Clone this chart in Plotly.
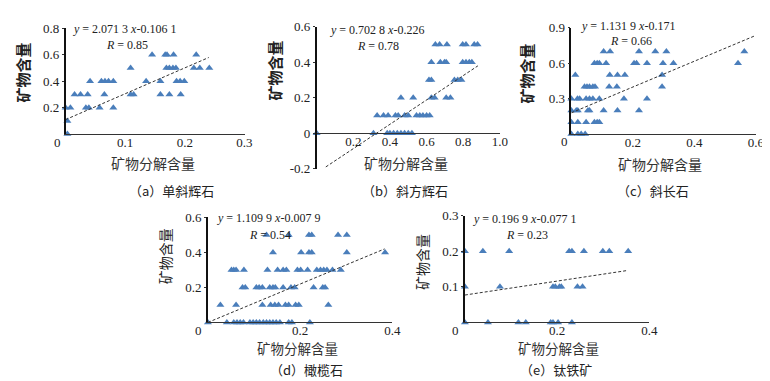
import plotly.graph_objects as go

W, H = 770, 381

# ---------------- data ----------------
# (a) 单斜辉石
a_x = [0.003, 0.003, 0.0, 0.008, 0.034, 0.039, 0.057, 0.08,
       0.015, 0.025, 0.037, 0.065, 0.109, 0.114, 0.159, 0.174, 0.193,
       0.041, 0.06, 0.066, 0.072, 0.08, 0.135, 0.159, 0.186, 0.192, 0.199,
       0.109, 0.169, 0.174, 0.18, 0.185, 0.215, 0.225, 0.241,
       0.145, 0.167, 0.17, 0.181, 0.219]
a_y = [0.0, 0.1, 0.2, 0.2, 0.2, 0.2, 0.2, 0.2,
       0.3, 0.3, 0.3, 0.3, 0.3, 0.3, 0.3, 0.3, 0.3,
       0.4, 0.4, 0.4, 0.4, 0.4, 0.4, 0.4, 0.4, 0.4, 0.4,
       0.5, 0.5, 0.5, 0.5, 0.5, 0.5, 0.5, 0.5,
       0.6, 0.6, 0.6, 0.6, 0.6]
a_trend_x = [0.0, 0.24]
a_trend_y = [0.11, 0.58]

# (b) 斜方辉石
b_x = [0.0, 0.31, 0.385, 0.40, 0.42, 0.44, 0.46, 0.48, 0.50, 0.52,
       0.33, 0.365, 0.39, 0.43, 0.445, 0.48, 0.50, 0.545, 0.563, 0.58, 0.60, 0.617,
       0.46, 0.527, 0.626, 0.644, 0.707, 0.73,
       0.613, 0.626, 0.752, 0.77, 0.79,
       0.626, 0.675, 0.698, 0.707, 0.797, 0.815, 0.833, 0.847,
       0.648, 0.671, 0.711, 0.797, 0.815, 0.86, 0.878]
b_y = [0.0] * 10 + [0.1] * 12 + [0.2] * 6 + [0.3] * 5 + [0.4] * 8 + [0.5] * 7
b_trend_x = [0.05, 0.88]
b_trend_y = [-0.19, 0.38]

# (c) 斜长石
c_x = [0.0, 0.021, 0.032, 0.045,
       0.0, 0.021, 0.048, 0.075, 0.084, 0.091,
       0.0, 0.016, 0.021, 0.054, 0.059, 0.105, 0.15, 0.22,
       0.0, 0.02, 0.027, 0.048, 0.059, 0.07, 0.091, 0.171, 0.246,
       0.043, 0.051, 0.059, 0.07, 0.077, 0.123, 0.148, 0.295,
       0.013, 0.125, 0.15, 0.174, 0.295,
       0.075, 0.084, 0.091, 0.113, 0.204, 0.212, 0.246, 0.298, 0.332, 0.542,
       0.105, 0.126, 0.22, 0.273, 0.309, 0.5625]
c_y = [0.0] * 4 + [0.1] * 6 + [0.2] * 8 + [0.3] * 9 + [0.4] * 8 + [0.5] * 5 + [0.6] * 10 + [0.7] * 6
c_trend_x = [0.0, 0.595]
c_trend_y = [0.18, 0.83]

# (d) 橄榄石
d_x = [0.0, 0.041, 0.056, 0.063, 0.07, 0.077, 0.091, 0.098, 0.105, 0.112, 0.12,
       0.127, 0.134, 0.141, 0.148, 0.156, 0.175, 0.182, 0.221,
       0.027, 0.061, 0.118, 0.136, 0.145, 0.153, 0.168, 0.175, 0.19, 0.197, 0.261,
       0.075, 0.081, 0.105, 0.111, 0.118, 0.134, 0.141, 0.146, 0.163, 0.18, 0.188,
       0.229, 0.249, 0.254,
       0.051, 0.056, 0.061, 0.078, 0.129, 0.151, 0.163, 0.17, 0.194, 0.201, 0.216,
       0.236, 0.244, 0.251, 0.258, 0.27, 0.288,
       0.141, 0.202, 0.219, 0.225, 0.301, 0.384,
       0.127, 0.175, 0.219, 0.225, 0.282, 0.301]
d_y = [0.0] * 19 + [0.1] * 11 + [0.2] * 14 + [0.3] * 17 + [0.4] * 6 + [0.5] * 6
d_trend_x = [0.0, 0.383]
d_trend_y = [0.0, 0.42]

# (e) 钛铁矿
e_x = [0.0, 0.05, 0.116, 0.132, 0.186, 0.191, 0.202, 0.232,
       0.0, 0.076, 0.191, 0.196, 0.205, 0.209, 0.244, 0.255,
       0.0, 0.039, 0.096, 0.226, 0.232, 0.258, 0.299, 0.313, 0.354]
e_y = [0.0] * 8 + [0.1] * 8 + [0.2] * 9
e_trend_x = [0.0, 0.352]
e_trend_y = [0.077, 0.146]

equations = ["<i>y</i> = 2.071 3 <i>x</i>-0.106 1",
             "<i>y</i> = 0.702 8 <i>x</i>-0.226",
             "<i>y</i> = 1.131 9 <i>x</i>-0.171",
             "<i>y</i> = 1.109 9 <i>x</i>-0.007 9",
             "<i>y</i> = 0.196 9 <i>x</i>-0.077 1"]
r_values = ["<i>R</i> = 0.85", "<i>R</i> = 0.78", "<i>R</i> = 0.66",
            "<i>R</i> = 0.54", "<i>R</i> = 0.23"]
captions = ["（a）单斜辉石", "（b）斜方辉石", "（c）斜长石", "（d）橄榄石", "（e）钛铁矿"]
x_title = "矿物分解含量"
y_title = "矿物含量"

x_ticks = [[0.1, 0.2, 0.3], [0.2, 0.4, 0.6, 0.8, 1.0], [0.2, 0.4, 0.6], [0.2, 0.4], [0.2, 0.4]]
x_ticktext = [["0.1", "0.2", "0.3"], ["0.2", "0.4", "0.6", "0.8", "1.0"],
              ["0.2", "0.4", "0.6"], ["0.2", "0.4"], ["0.2", "0.4"]]
y_ticks = [[0.2, 0.4, 0.6, 0.8], [-0.2, 0, 0.2, 0.4, 0.6], [0.3, 0.6, 0.9],
           [0.2, 0.4, 0.6], [0.1, 0.2, 0.3]]
y_ticktext = [["0.2", "0.4", "0.6", "0.8"], ["-0.2", "0", "0.2", "0.4", "0.6"],
              ["0.3", "0.6", "0.9"], ["0.2", "0.4", "0.6"], ["0.1", "0.2", "0.3"]]
x_ranges = [[0, 0.3], [0, 1.0], [0, 0.6], [0, 0.4], [0, 0.4]]
y_ranges = [[0, 0.8], [-0.2, 0.6], [0, 0.9], [0, 0.6], [0, 0.3]]

# ---------------- layout geometry (pixels) ----------------
panels = [
    dict(xd=(58.3, 239.3), yd=(124, 14), eq=(64, 15), r=(97, 31), zero=(50, 133),
         yt=(15, 60), xt=(147, 154), cap=(165, 183)),
    dict(xd=(312.3, 497.7), yd=(160, 12.3), eq=(324, 16), r=(351, 32), zero=None,
         yt=(270, 58), xt=(403, 154), cap=(402, 183)),
    dict(xd=(570, 756.7), yd=(124, 13.3), eq=(578, 11), r=(607, 27), zero=(563, 132),
         yt=(525, 61), xt=(660, 155), cap=(653, 183)),
    dict(xd=(202.3, 389), yd=(320, 210.7), eq=(209, 211), r=(242, 229), zero=(193, 328),
         yt=(159, 251), xt=(293, 347), cap=(302, 369)),
    dict(xd=(462.3, 649), yd=(320, 209), eq=(468, 212), r=(502, 229), zero=(453, 328),
         yt=(419, 257), xt=(557, 347), cap=(554, 369)),
]

def px(v):
    return v / W

def py(v):
    return 1 - v / H

xs = [a_x, b_x, c_x, d_x, e_x]
ys = [a_y, b_y, c_y, d_y, e_y]
txs = [a_trend_x, b_trend_x, c_trend_x, d_trend_x, e_trend_x]
tys = [a_trend_y, b_trend_y, c_trend_y, d_trend_y, e_trend_y]

fig = go.Figure()
annotations = []
serif = "Liberation Serif"
cjk = "Noto Sans CJK SC"
layout = dict(width=W, height=H, margin=dict(l=0, r=0, t=0, b=0),
              paper_bgcolor="white", plot_bgcolor="white", showlegend=False)

for i, p in enumerate(panels):
    n = "" if i == 0 else str(i + 1)
    xa, ya = "x" + n, "y" + n
    fig.add_trace(go.Scatter(x=xs[i], y=ys[i], mode="markers", xaxis=xa, yaxis=ya,
                             cliponaxis=False,
                             marker=dict(symbol="triangle-up", size=7, color="#4a7ebb",
                                         line=dict(width=0))))
    fig.add_trace(go.Scatter(x=txs[i], y=tys[i], mode="lines", xaxis=xa, yaxis=ya,
                             cliponaxis=False,
                             line=dict(color="#333333", width=1, dash="3px,2px")))
    xaxis = dict(domain=[px(p["xd"][0]), px(p["xd"][1])], range=x_ranges[i],
                 showgrid=False, zeroline=False, showline=True, linecolor="#333333",
                 linewidth=1.2, ticks="", tickvals=x_ticks[i], ticktext=x_ticktext[i],
                 ticklabelstandoff=-4,
                 tickfont=dict(family=serif, size=13, color="#222222"), anchor=ya)
    if i == 1:
        yz = p["yd"][0] + (p["yd"][1] - p["yd"][0]) * (0 - y_ranges[i][0]) / (y_ranges[i][1] - y_ranges[i][0])
        xaxis.update(anchor="free", position=py(yz))
    yaxis = dict(domain=[py(p["yd"][0]), py(p["yd"][1])], range=y_ranges[i],
                 showgrid=False, zeroline=False, showline=True, linecolor="#111111",
                 linewidth=1.6, ticks="outside", ticklen=2, tickcolor="#333333",
                 tickvals=y_ticks[i], ticktext=y_ticktext[i],
                 tickfont=dict(family=serif, size=13, color="#222222"), anchor=xa)
    layout["xaxis" + n] = xaxis
    layout["yaxis" + n] = yaxis

    annotations.append(dict(text=equations[i], x=px(p["eq"][0]), y=py(p["eq"][1]),
                            xref="paper", yref="paper", xanchor="left", yanchor="middle",
                            showarrow=False, font=dict(family=serif, size=12, color="#222222")))
    annotations.append(dict(text=r_values[i], x=px(p["r"][0]), y=py(p["r"][1]),
                            xref="paper", yref="paper", xanchor="left", yanchor="middle",
                            showarrow=False, font=dict(family=serif, size=12, color="#222222")))
    if p["zero"]:
        annotations.append(dict(text="0", x=px(p["zero"][0]), y=py(p["zero"][1]),
                                xref="paper", yref="paper", xanchor="center", yanchor="middle",
                                showarrow=False, font=dict(family=serif, size=13, color="#222222")))
    annotations.append(dict(text="<b>" + y_title + "</b>" if i < 3 else y_title,
                            x=px(p["yt"][0]), y=py(p["yt"][1]), textangle=-90,
                            xref="paper", yref="paper", xanchor="center", yanchor="middle",
                            showarrow=False, font=dict(family=cjk, size=15 if i < 3 else 14,
                                                       color="#222222")))
    annotations.append(dict(text=x_title, x=px(p["xt"][0]), y=py(p["xt"][1]),
                            xref="paper", yref="paper", xanchor="center", yanchor="middle",
                            showarrow=False, font=dict(family=cjk, size=14 if i < 3 else 13.5,
                                                       color="#333333")))
    annotations.append(dict(text=captions[i], x=px(p["cap"][0]), y=py(p["cap"][1]),
                            xref="paper", yref="paper", xanchor="center", yanchor="middle",
                            showarrow=False, font=dict(family=cjk, size=13, color="#222222")))

layout["annotations"] = annotations
fig.update_layout(**layout)
fig.write_html("out.html")
